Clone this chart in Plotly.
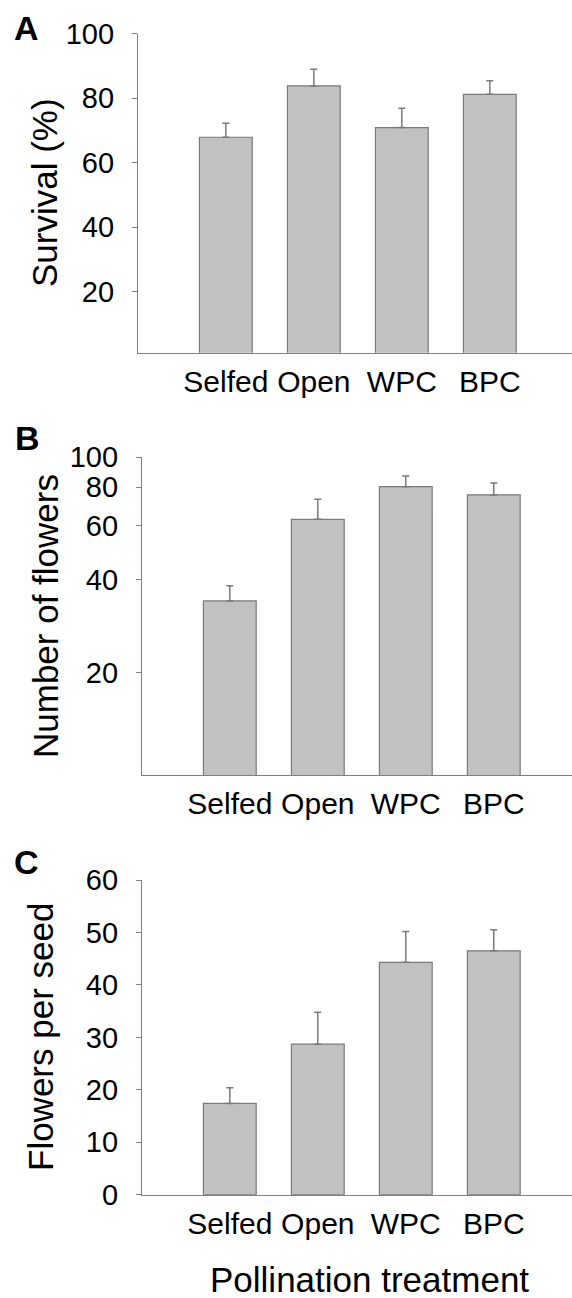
import math
import plotly.graph_objects as go

categories = ["Selfed", "Open", "WPC", "BPC"]

survival = [67.9, 83.8, 70.9, 81.2]
survival_se = [4.3, 5.2, 6.0, 4.2]

flowers = [34.2, 62.9, 80.3, 75.5]
flowers_se = [4.1, 10.2, 6.7, 7.0]

flowers_per_seed = [17.4, 28.7, 44.3, 46.5]
flowers_per_seed_se = [3.0, 6.1, 5.9, 4.0]

ticks_a = [20, 40, 60, 80, 100]
ticks_b = [20, 40, 60, 80, 100]
ticks_c = [0, 10, 20, 30, 40, 50, 60]

W, H = 572, 1298
FONT = "Liberation Sans, Arial, Helvetica, sans-serif"
BAR_FILL = "#c0c1c0"
EDGE = "#7a7a7a"
AXIS = "#808080"

fig = go.Figure()


def add_bars(vals, errs, xa, ya):
    fig.add_trace(go.Bar(
        x=categories, y=vals, xaxis=xa, yaxis=ya, width=0.6,
        marker=dict(color=BAR_FILL, line=dict(color=EDGE, width=1.2)),
        error_y=dict(type="data", symmetric=False, array=errs,
                     arrayminus=[0] * len(errs), color=EDGE,
                     thickness=1.5, width=3.5),
        showlegend=False,
    ))


add_bars(survival, survival_se, "x", "y")
add_bars(flowers, flowers_se, "x2", "y2")
add_bars(flowers_per_seed, flowers_per_seed_se, "x3", "y3")


def py(pix):
    return 1 - pix / H


xcommon = dict(type="category", showline=True, linecolor=AXIS, linewidth=1.3,
               ticks="", showgrid=False, zeroline=False, automargin=False,
               tickfont=dict(size=30, color="black", family=FONT),
               ticklabelstandoff=2)
ycommon = dict(showline=True, linecolor=AXIS, linewidth=1.3, ticks="outside",
               ticklen=5, tickcolor=AXIS, tickwidth=1.3, showgrid=False,
               zeroline=False, automargin=False,
               tickfont=dict(size=29, color="black", family=FONT),
               ticklabelstandoff=12)

fig.update_layout(
    template="none",
    width=W, height=H, margin=dict(l=0, r=0, t=0, b=0, pad=0), autosize=False,
    paper_bgcolor="white", plot_bgcolor="white",
    font=dict(family=FONT, color="black"),
    bargap=0.4,
    xaxis=dict(xcommon, domain=[138 / W, 1], range=[-0.998, 3.934], anchor="y"),
    yaxis=dict(ycommon, domain=[py(352.7), py(33.7)], range=[1.1, 100],
               tickvals=ticks_a, anchor="x"),
    xaxis2=dict(xcommon, domain=[142 / W, 1], range=[-0.998, 3.889], anchor="y2"),
    yaxis2=dict(ycommon, type="log", domain=[py(775.3), py(457.3)],
                range=[math.log10(9.3), 2], tickvals=ticks_b, anchor="x2"),
    xaxis3=dict(xcommon, domain=[142 / W, 1], range=[-0.998, 3.889], anchor="y3"),
    yaxis3=dict(ycommon, domain=[py(1194.7), py(880)], range=[0, 60],
                tickvals=ticks_c, anchor="x3"),
)

annotations = [
    dict(text="<b>A</b>", x=26 / W, y=py(28), size=34),
    dict(text="<b>B</b>", x=27 / W, y=py(438), size=34),
    dict(text="<b>C</b>", x=26 / W, y=py(862), size=34),
]
for a in annotations:
    fig.add_annotation(text=a["text"], x=a["x"], y=a["y"], xref="paper", yref="paper",
                       xanchor="center", yanchor="middle", showarrow=False,
                       font=dict(size=a["size"], color="black", family=FONT))

titles = [
    ("Survival (%)", 45 / W, py(193)),
    ("Number of flowers", 45 / W, py(616)),
    ("Flowers per seed", 40 / W, py(1037)),
]
for t, x, y in titles:
    fig.add_annotation(text=t, x=x, y=y, xref="paper", yref="paper", textangle=-90,
                       xanchor="center", yanchor="middle", showarrow=False,
                       font=dict(size=35, color="black", family=FONT))

fig.add_annotation(text="Pollination treatment", x=369 / W, y=py(1279), xref="paper",
                   yref="paper", xanchor="center", yanchor="middle", showarrow=False,
                   font=dict(size=35, color="black", family=FONT))

fig.write_html("out.html")
